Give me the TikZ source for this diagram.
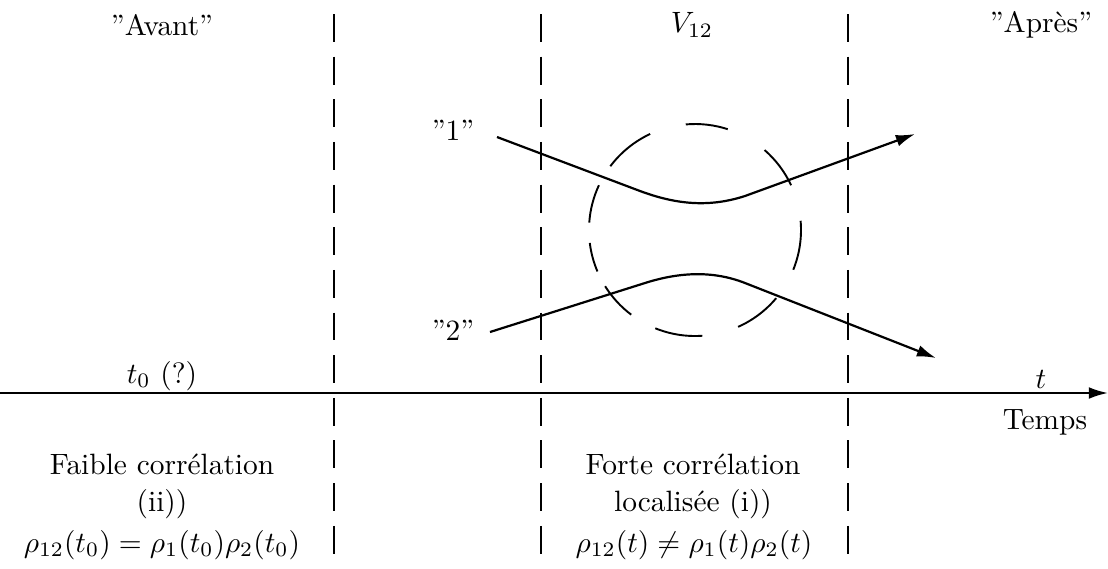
\documentclass[tikz,border=0pt]{standalone}
\usepackage{fontspec}
\usetikzlibrary{arrows.meta}
\begin{document}
\begin{tikzpicture}[x=0.34pt,y=-0.34pt,
  lbl/.style={inner sep=0pt,font=\fontsize{10}{12}\selectfont},
  sep/.style={line width=0.7pt,dash pattern=on 9.5pt off 5pt},
  traj/.style={line width=0.75pt,-{Latex[length=6.5pt,width=4pt]}},
  zone/.style={line width=0.65pt},
  axis/.style={line width=0.75pt,-{Latex[length=6.5pt,width=4pt]}}]
\useasboundingbox (0,0) rectangle (1108,568);
% separators
\foreach \n/\x in {a/334,b/541,c/848}{
  \coordinate (\n top) at (\x,14);
  \coordinate (\n bot) at (\x,566);
  \draw[sep] (\n top) -- (\n bot);
}
% time axis
\coordinate (ax0) at (0,393);
\coordinate (ax1) at (1108,393);
\draw[axis] (ax0) -- (ax1);
% interaction zone (hand-dashed circle)
\coordinate (zc) at (695,230);
\foreach \a/\b in {-5/22,40/66,86/112,127/148,157/173,184/205,217/245,265/288,311/335}
  \draw[zone] ([shift={(\a:106)}]zc) arc[start angle=\a,end angle=\b,radius=106];
% trajectories
\coordinate (p1s) at (497,137);
\coordinate (p1e) at (915,134);
\coordinate (p2s) at (490,332);
\coordinate (p2e) at (936,358);
\draw[traj] (p1s) -- (640,191) .. controls (675,204) and (708,208) .. (745,196) -- (p1e);
\draw[traj] (p2s) -- (645,283) .. controls (678,272.5) and (712,270) .. (745,283) -- (p2e);
% labels
\node[lbl] (avant) at (162,25) {''Avant''};
\node[lbl] (v12) at (692,25) {$V_{12}$};
\node[lbl] (apres) at (1041,25) {''Après''};
\node[lbl] (one) at (453,130) {''1''};
\node[lbl] (two) at (453,330) {''2''};
\node[lbl] (t0) at (162,376) {$t_0$ (?)};
\node[lbl] (t) at (1041,379) {$t$};
\node[lbl] (temps) at (1045,422) {Temps};
\node[lbl] (faible) at (162,464) {Faible corrélation};
\node[lbl] (ii) at (162,504) {(ii))};
\node[lbl] (rho1) at (162,545) {$\rho_{12}(t_0)=\rho_1(t_0)\rho_2(t_0)$};
\node[lbl] (forte) at (693,464) {Forte corrélation};
\node[lbl] (loc) at (693,504) {localisée (i))};
\node[lbl] (rho2) at (694,545) {$\rho_{12}(t)\neq\rho_1(t)\rho_2(t)$};
\end{tikzpicture}
\end{document}
